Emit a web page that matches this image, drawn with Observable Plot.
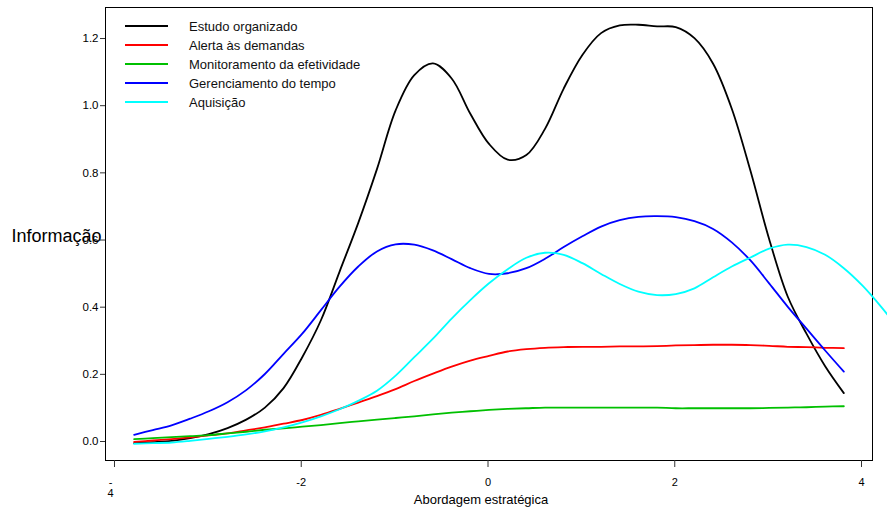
<!DOCTYPE html>
<html>
<head>
<meta charset="utf-8">
<script src="https://cdn.jsdelivr.net/npm/d3@7"></script>
<script src="https://cdn.jsdelivr.net/npm/@observablehq/plot@0.6"></script>
<style>
  html, body { margin: 0; padding: 0; background: white; }
  #chart { width: 887px; height: 514px; overflow: hidden; }
</style>
</head>
<body>
<div id="chart"></div>
<script>
// ---- data ----
const theta = [-3.8,-3.6,-3.4,-3.2,-3.0,-2.8,-2.6,-2.4,-2.2,-2.0,-1.8,-1.6,-1.4,-1.2,-1.0,-0.8,-0.6,-0.4,-0.2,0.0,
               0.2,0.4,0.6,0.8,1.0,1.2,1.4,1.6,1.8,2.0,2.2,2.4,2.6,2.8,3.0,3.2,3.4,3.6,3.8];
const thetaAquisicao = [-3.8,-3.6,-3.4,-3.2,-3.0,-2.8,-2.6,-2.4,-2.2,-2.0,-1.8,-1.6,-1.4,-1.2,-1.0,-0.8,-0.6,-0.4,-0.2,0.0,
               0.2,0.4,0.6,0.8,1.0,1.2,1.4,1.6,1.8,2.0,2.2,2.4,2.6,2.8,3.0,3.2,3.4,3.6,3.8,4.0,4.2,4.4];

const estudoOrganizado = [0.004,0.007,0.011,0.019,0.031,0.049,0.074,0.110,0.168,0.260,0.370,0.515,0.660,0.820,0.995,1.100,1.135,1.090,0.985,0.895,
               0.848,0.862,0.940,1.060,1.160,1.225,1.248,1.250,1.245,1.243,1.210,1.134,1.000,0.815,0.612,0.440,0.330,0.233,0.153];
const alertaDemandas = [0.008,0.012,0.016,0.021,0.027,0.033,0.042,0.051,0.062,0.073,0.088,0.106,0.125,0.144,0.165,0.189,0.211,0.232,0.250,0.264,
               0.277,0.284,0.288,0.290,0.291,0.291,0.292,0.292,0.293,0.295,0.296,0.297,0.297,0.296,0.294,0.291,0.290,0.288,0.287];
const monitoramento = [0.016,0.019,0.022,0.025,0.028,0.033,0.038,0.044,0.048,0.053,0.058,0.064,0.069,0.074,0.079,0.084,0.090,0.095,0.099,0.103,
               0.106,0.108,0.110,0.110,0.110,0.110,0.110,0.110,0.110,0.108,0.108,0.108,0.108,0.108,0.109,0.110,0.111,0.113,0.114];
const gerenciamento = [0.029,0.043,0.057,0.077,0.099,0.126,0.162,0.210,0.270,0.330,0.400,0.470,0.530,0.575,0.596,0.595,0.578,0.552,0.525,0.508,
               0.510,0.525,0.553,0.588,0.620,0.649,0.668,0.678,0.680,0.677,0.665,0.642,0.602,0.548,0.480,0.410,0.345,0.280,0.217];
const aquisicao = [0.002,0.004,0.006,0.011,0.017,0.023,0.030,0.039,0.051,0.066,0.084,0.105,0.130,0.160,0.205,0.260,0.315,0.375,0.430,0.480,
               0.522,0.556,0.571,0.565,0.540,0.508,0.478,0.455,0.445,0.448,0.465,0.498,0.530,0.557,0.583,0.595,0.588,0.565,0.525,0.473,0.410,0.340];

const seriesNames = ["Estudo organizado","Alerta às demandas","Monitoramento da efetividade","Gerenciamento do tempo","Aquisição"];
const seriesColors = ["#000000","#ff0000","#00c000","#0000ff","#00ffff"];
const xTicks = [-4,-2,0,2,4];
const yTicks = [0,0.2,0.4,0.6,0.8,1.0,1.2];
const xTitle = "Abordagem estratégica";
const yTitle = "Informação";

// ---- table ----
const seriesData = [
  [theta, estudoOrganizado],
  [theta, alertaDemandas],
  [theta, monitoramento],
  [theta, gerenciamento],
  [thetaAquisicao, aquisicao]
];
const rows = [];
seriesData.forEach(([xs, ys], i) => xs.forEach((t, j) => rows.push({serie: seriesNames[i], theta: t, info: ys[j]})));

const font = "'Liberation Sans', Arial, Helvetica, sans-serif";

const svg = Plot.plot({
  width: 887,
  height: 514,
  marginLeft: 105,
  marginRight: 15,
  marginTop: 7,
  marginBottom: 54,
  style: {fontFamily: font, fontSize: "11px", background: "white", color: "black", overflow: "hidden"},
  x: {domain: [-4.107, 4.107], label: null},
  y: {domain: [-0.0476, 1.3013], label: null},
  color: {domain: seriesNames, range: seriesColors},
  marks: [
    Plot.frame({stroke: "black", strokeWidth: 1}),
    Plot.axisY({ticks: yTicks, tickSize: 5, tickPadding: 2, dy: -3, fontSize: 11.5, tickFormat: d3.format(".1f"), label: null, stroke: "#333"}),
    Plot.axisX({ticks: xTicks, tickSize: 7, tickPadding: 11, label: null, stroke: "#333", fontSize: 11,
      tickFormat: d => d === -4 ? "" : String(d).replace("\u2212", "-"), dx: -1}),
    Plot.axisX({ticks: [-4], tickSize: 0, tickPadding: 18, label: null, fontSize: 11, dx: -5,
      tickFormat: () => "-\n4"}),
    Plot.text([yTitle], {frameAnchor: "left", dx: -94, dy: 2, textAnchor: "start", fontSize: 18, fill: "black"}),
    Plot.text([xTitle], {frameAnchor: "bottom", dx: -8, dy: 43, fontSize: 13, fill: "black"}),
    Plot.line(rows, {x: "theta", y: "info", z: "serie", stroke: "serie", curve: "catmull-rom", strokeWidth: 1.8})
  ]
});

// ---- legend inside the frame (top-left) ----
const lg = d3.select(svg).append("g")
  .attr("font-family", font).attr("font-size", 13).attr("text-anchor", "start");
seriesNames.forEach((name, i) => {
  const cy = 26 + i * 19;
  lg.append("line").attr("x1", 125).attr("x2", 168).attr("y1", cy).attr("y2", cy)
    .attr("stroke", seriesColors[i]).attr("stroke-width", 2);
  lg.append("text").attr("x", 189).attr("y", cy).attr("dy", "0.35em")
    .attr("text-anchor", "start").attr("fill", "#111").text(name);
});

document.getElementById("chart").appendChild(svg);
</script>
</body>
</html>
